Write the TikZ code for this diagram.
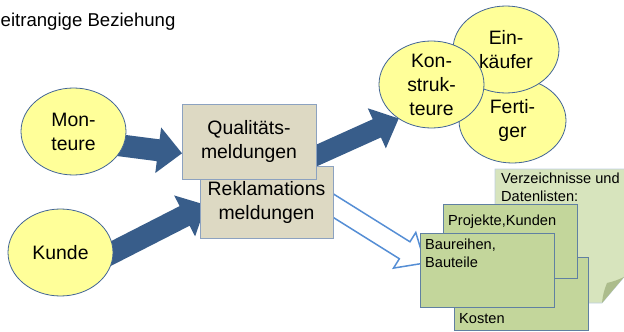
\documentclass[tikz,border=0pt]{standalone}
\usepackage{fontspec}
\setmainfont{Liberation Sans}
\usetikzlibrary{calc, backgrounds, shapes.geometric}
\definecolor{ellfill}{RGB}{255,255,153}
\definecolor{ellline}{RGB}{65,100,150}
\definecolor{boxfill}{RGB}{221,217,195}
\definecolor{boxline}{RGB}{140,162,192}
\definecolor{cardfill}{RGB}{195,214,155}
\definecolor{cardline}{RGB}{96,128,162}
\definecolor{notefill}{RGB}{215,228,189}
\definecolor{noteline}{RGB}{190,208,225}
\definecolor{flapfill}{RGB}{172,188,140}
\definecolor{arrowblue}{RGB}{56,93,138}
\definecolor{hollowblue}{RGB}{85,142,213}
\newcommand{\diagfont}{\fontsize{19.4}{24}\selectfont}
\newcommand{\listfont}{\fontsize{14.6}{18}\selectfont}
\tikzstyle{ell}=[shape=ellipse, draw=ellline, fill=ellfill, line width=0.8pt, inner sep=0pt, outer sep=0pt, minimum width=105pt, minimum height=87pt, align=center, font=\diagfont]
\tikzstyle{msg}=[shape=rectangle, draw=boxline, fill=boxfill, line width=0.8pt, inner sep=0pt, outer sep=0pt, minimum width=134pt, minimum height=75pt, align=center, font=\diagfont]
\tikzstyle{card}=[shape=rectangle, draw=cardline, fill=cardfill, line width=0.8pt, inner sep=0pt, outer sep=0pt, minimum width=134pt, minimum height=74pt]
\tikzstyle{cardtxt}=[inner sep=0pt, anchor=north west, align=left, font=\listfont]
\tikzstyle{solid}=[fill=arrowblue]
\tikzstyle{hollow}=[draw=hollowblue, fill=white, line width=1.5pt, line join=miter]
% a broad arrow: style, from, tip, half shaft width, half head width
\newcommand{\fatarrow}[5]{%
  \coordinate (fa-t) at (#3);
  \coordinate (fa-s) at ($(#2)!-10pt!(fa-t)$);
  \coordinate (fa-b) at ($(fa-t)!24pt!(fa-s)$);
  \path[#1] ($(fa-s)!#4!90:(fa-t)$) -- ($(fa-b)!#4!-90:(fa-s)$)
    -- ($(fa-b)!#5!-90:(fa-s)$) -- (fa-t) -- ($(fa-b)!#5!90:(fa-s)$)
    -- ($(fa-b)!#4!90:(fa-s)$) -- ($(fa-s)!#4!-90:(fa-t)$) -- cycle;
}

\begin{document}
\begin{tikzpicture}[x=1pt, y=-1pt]
\useasboundingbox (0,0) rectangle (624,332);
% the heading
\node[inner sep=0pt, anchor=base west, font=\fontsize{18.6}{22}\selectfont] (Ttl) at (0.5,27) {eitrangige Beziehung};
% the sources
\node[ell] (Mon) at (73.5,131.5) {Mon-\\teure};
\node[ell] (Kun) at (60.5,252.5) {Kunde};
% the two messages
\node[msg, minimum height=72pt, minimum width=133pt] (Rek) at (266.5,202) {Reklamations\\meldungen};
\node[msg] (Qual) at (249,141.5) {Qualitäts-\\meldungen};
% the receivers
\node[ell, minimum width=107pt, minimum height=85pt] (Fer) at (512.5,120.5) {Ferti-\\ger};
\node[ell, minimum width=106pt] (Ein) at (506,49.5) {Ein-\\käufer};
\node[ell] (Kon) at (431.5,84.5) {Kon-\\struk-\\teure};
% the note with its folded corner
\path[draw=noteline, fill=notefill, line width=0.6pt] (495,169) -- (630,169) -- (630,270) -- (602,303) -- (495,303) -- cycle;
\path[fill=flapfill] (602,303) to[bend left=8] (607,283) to[bend right=6] (624,277) -- cycle;
\node[cardtxt] (VerzT) at (501,173) {Verzeichnisse und\\Datenlisten:};
% the lists
\node[card, minimum height=73pt] (Kost) at (521,293.5) {};
\node[card] (Proj) at (510,241) {};
\node[card] (Baur) at (487,270) {};
\node[cardtxt] (ProjT) at ($(Proj.north west)+(5,11)$) {Projekte,Kunden};
\node[cardtxt] (BaurT) at ($(Baur.north west)+(5,6)$) {Baureihen,\\Bauteile};
\node[cardtxt] (KostT) at ($(Kost.south west)+(5,-17)$) {Kosten};
% the arrows
\coordinate (tipR) at ($(Rek.west)+(6,3)$);
\coordinate (tipB) at ($(Baur.west)+(5,-7)$);
\begin{scope}[on background layer]
\fatarrow{solid}{Mon.-16}{Qual.190}{11pt}{23pt}
\fatarrow{solid}{Kun.east}{tipR}{11pt}{23pt}
\fatarrow{solid}{Qual.-12}{Kon.226}{10pt}{22pt}
\fatarrow{hollow}{Rek.-3}{tipB}{10pt}{21pt}
\end{scope}
\end{tikzpicture}
\end{document}
